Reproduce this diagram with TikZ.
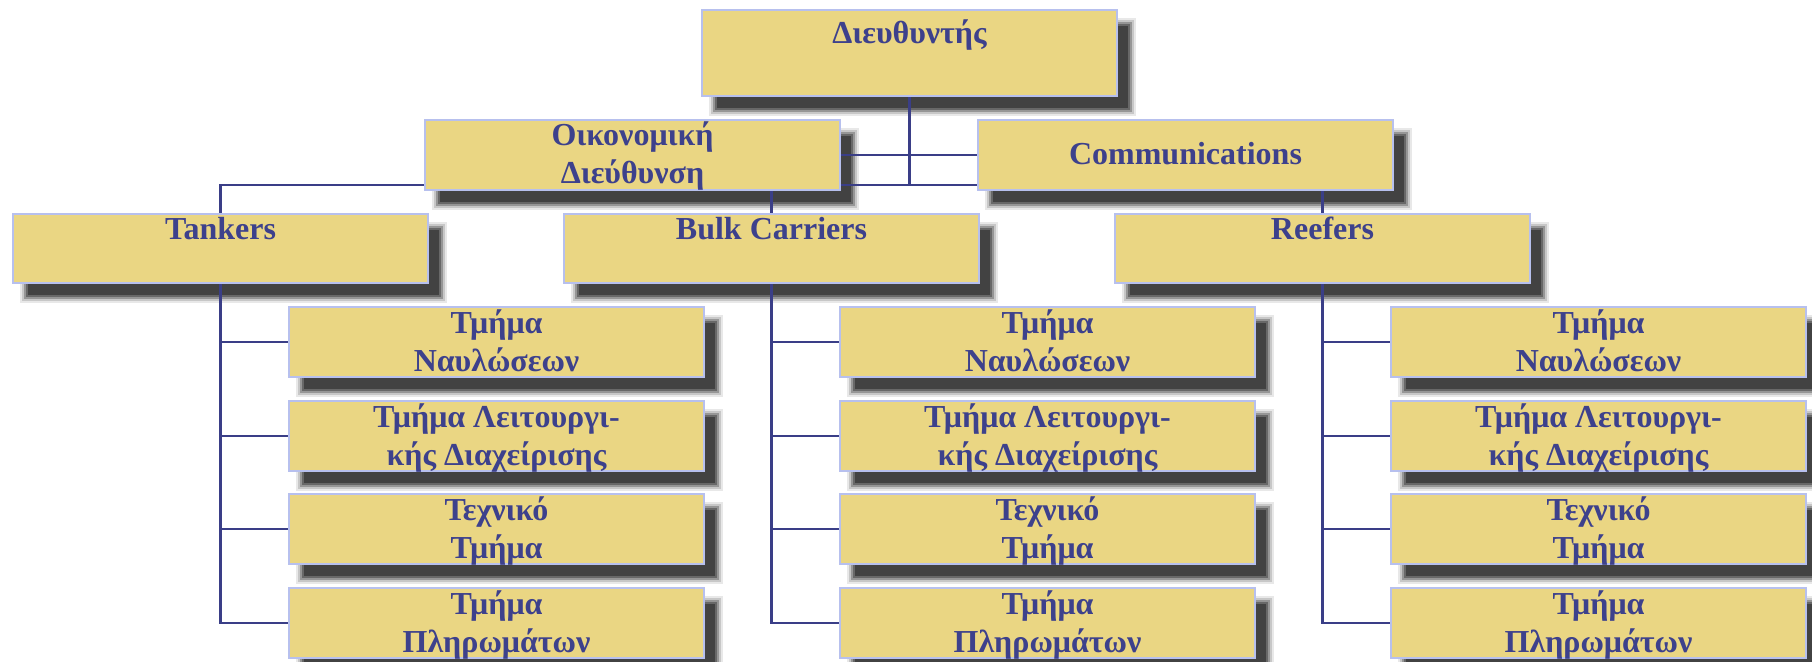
\documentclass[tikz,border=0pt]{standalone}
\usepackage{fontspec}
\setmainfont{Liberation Serif}
\usetikzlibrary{calc}

\definecolor{boxfill}{RGB}{234,214,131}
\definecolor{boxedge}{RGB}{183,192,238}
\definecolor{ink}{RGB}{61,65,140}
\definecolor{wirecol}{RGB}{58,62,135}
\definecolor{shadowgray}{RGB}{66,66,66}

\pgfdeclarelayer{shadows}
\pgfdeclarelayer{wires}
\pgfsetlayers{shadows,wires,main}

\tikzset{
  unit/.style={draw=boxedge, line width=1pt, fill=boxfill,
    minimum width=207.5pt, inner sep=0pt, anchor=north west},
  caption/.style={anchor=base, inner sep=0pt, text=ink,
    font=\bfseries\fontsize{16}{19}\selectfont},
  wire/.style={draw=wirecol, line width=1.2pt},
}

% soft drop shadow behind a box: solid core with fading rims
\newcommand\castshadow[1]{%
  \begin{pgfonlayer}{shadows}
    \foreach \s/\a in {5/0.12,3/0.2,1/0.36,-1/0.55}
      \fill[fill=shadowgray, opacity=\a]
        ($(#1.north west)+(13-\s,14-\s)$) rectangle ($(#1.south east)+(13+\s,14+\s)$);
    \fill[fill=shadowgray]
      ($(#1.north west)+(16,17)$) rectangle ($(#1.south east)+(10,11)$);
  \end{pgfonlayer}}

% box: name, left, top, height, baseline offset, caption
\newcommand\orgunit[6]{%
  \node[unit, minimum height=#4*0.5pt] (#1) at (#2,#3) {};
  \node[caption] (#1-text) at ($(#1.north)+(0,#5)$) {#6};
  \castshadow{#1}}

\newcommand\twolines[2]{\begin{tabular}[t]{@{}c@{}}#1\\#2\end{tabular}}

\begin{document}
\begin{tikzpicture}[x=0.5pt, y=-0.5pt]
  \useasboundingbox (0,0) rectangle (1812,661);

  \orgunit{dir}{701}{9}{86}{34}{Διευθυντής}
  \orgunit{oik}{424}{119}{70}{26}{\twolines{Οικονομική}{Διεύθυνση}}
  \orgunit{comm}{977}{119}{70}{45}{Communications}

  \foreach \d/\dx/\dn in {tank/12/Tankers, bulk/563/Bulk Carriers, reef/1114/Reefers}{
    \orgunit{\d}{\dx}{213}{69}{26}{\dn}
    \foreach \k/\ky/\ta/\tb in {1/306/Τμήμα/Ναυλώσεων,
                               2/400/Τμήμα Λειτουργι-/κής Διαχείρισης,
                               3/493/Τεχνικό/Τμήμα,
                               4/587/Τμήμα/Πληρωμάτων}{
      \orgunit{\d\k}{\dx+276}{\ky}{70}{27}{\twolines{\ta}{\tb}}
    }
  }

  \coordinate (bus) at (0,185);
  \begin{pgfonlayer}{wires}
    \draw[wire] (dir.south) -- (dir.south |- bus);
    \draw[wire] (oik.east) -- (comm.west);
    \draw[wire] (tank.north) -- (tank.north |- bus) -- (reef.north |- bus) -- (reef.north);
    \draw[wire] (bulk.north) -- (bulk.north |- bus);
    \foreach \d in {tank,bulk,reef}{
      \draw[wire] (\d.south) |- (\d4.west);
      \foreach \k in {1,2,3}
        \draw[wire] (\d.south |- \d\k.west) -- (\d\k.west);
    }
  \end{pgfonlayer}
\end{tikzpicture}
\end{document}
